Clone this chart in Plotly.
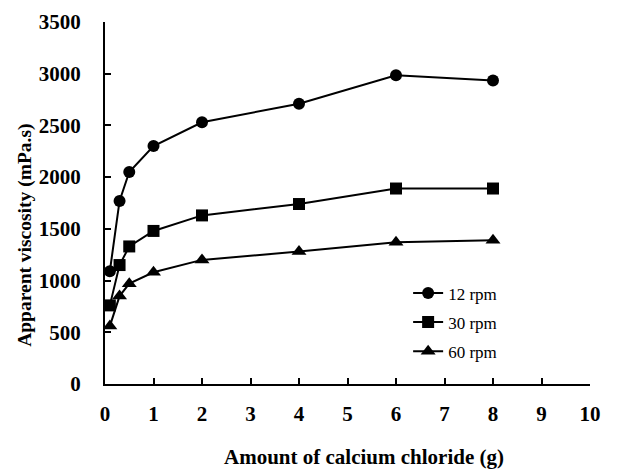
import plotly.graph_objects as go

x_vals = [0.1, 0.3, 0.5, 1, 2, 4, 6, 8]
rpm12 = [1090, 1770, 2050, 2300, 2530, 2710, 2985, 2935]
rpm30 = [760, 1150, 1330, 1480, 1630, 1740, 1890, 1890]
rpm60 = [560, 850, 970, 1080, 1200, 1280, 1370, 1390]
series_names = ["12 rpm", "30 rpm", "60 rpm"]
symbols = ["circle", "square", "triangle-up"]
x_title = "Amount of calcium chloride (g)"
y_title = "Apparent viscosity (mPa.s)"

font_family = "Liberation Serif"

fig = go.Figure()
for name, ys, sym in zip(series_names, [rpm12, rpm30, rpm60], symbols):
    fig.add_trace(go.Scatter(
        x=x_vals, y=ys, name=name, mode="lines+markers",
        legendgroup=name,
        line=dict(color="black", width=2),
        marker=dict(symbol=sym, size=12 if sym != "triangle-up" else 13, color="black"),
    ))

fig.update_layout(
    width=622, height=472,
    margin=dict(l=105, r=32, t=22, b=88),
    paper_bgcolor="white", plot_bgcolor="white",
    font=dict(family=font_family, color="black", size=21),
    showlegend=True,
    legend=dict(x=0.625, y=0.30, xanchor="left", yanchor="top",
                bgcolor="rgba(0,0,0,0)", tracegroupgap=4,
                font=dict(family=font_family, size=17, color="black")),
    annotations=[
        dict(text=f"<b>{x_title}</b>", xref="paper", yref="paper",
             x=0.534, y=-0.203, xanchor="center", yanchor="middle",
             showarrow=False, font=dict(size=21)),
        dict(text=f"<b>{y_title}</b>", xref="paper", yref="paper",
             x=-0.165, y=0.412, xanchor="center", yanchor="middle",
             textangle=-90, showarrow=False, font=dict(size=19.5)),
    ],
)
fig.update_xaxes(
    range=[0, 10], tickmode="array", tickvals=list(range(0, 11)),
    ticktext=[f"<b>{v}</b>" for v in range(0, 11)],
    ticks="inside", ticklen=6, tickwidth=1.5, tickcolor="black",
    showline=True, linecolor="black", linewidth=2, showgrid=False, zeroline=False,
    ticklabelstandoff=10, automargin=False,
)
yt = list(range(0, 3501, 500))
fig.update_yaxes(
    range=[0, 3500], tickmode="array", tickvals=yt,
    ticktext=[f"<b>{v}</b>" for v in yt],
    ticks="inside", ticklen=6, tickwidth=1.5, tickcolor="black",
    showline=True, linecolor="black", linewidth=2, showgrid=False, zeroline=False,
    ticklabelstandoff=18, automargin=False,
)

fig.write_html("out.html")
